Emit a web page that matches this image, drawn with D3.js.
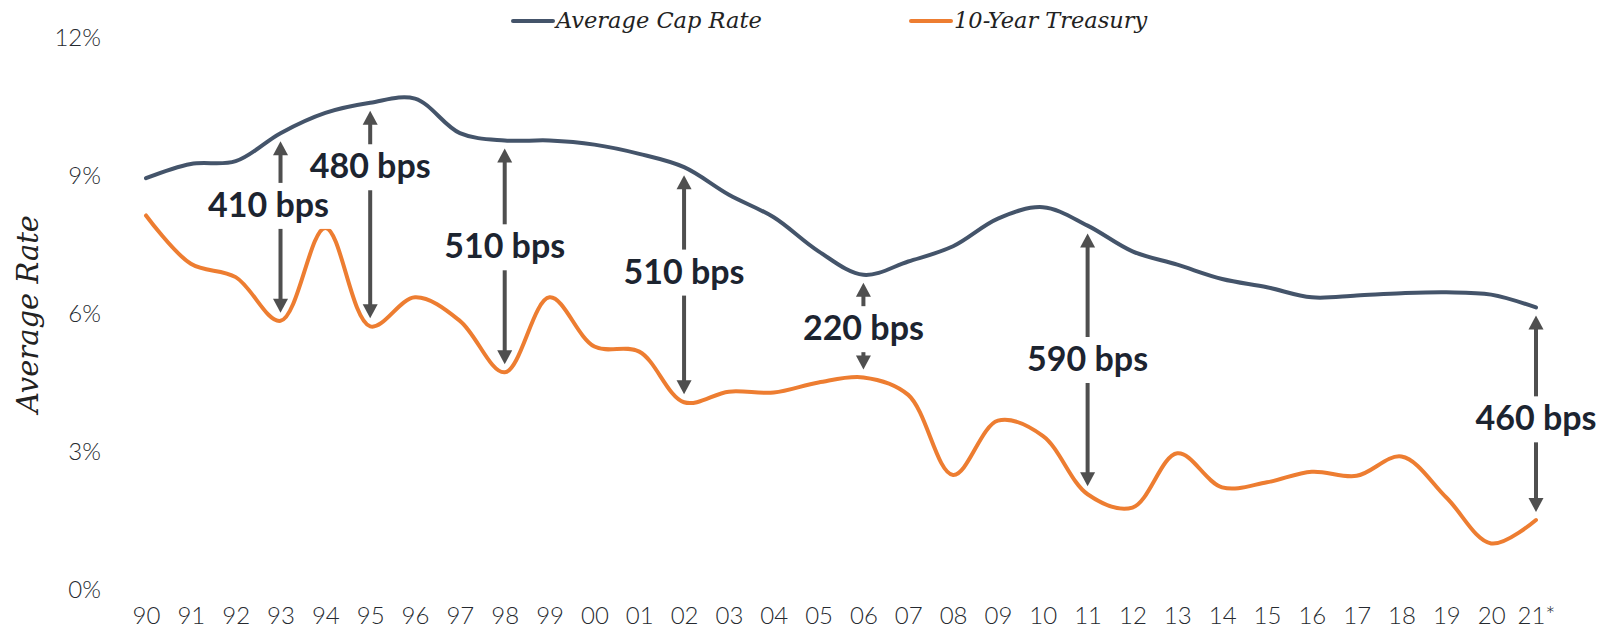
<html>
  <head>
    <script src="https://cdn.jsdelivr.net/npm/d3@7"></script>
    <style>
      body { margin: 0; background: #fff; }
      text { font-family: Lato, "Open Sans", sans-serif; }
    </style>
  </head>
  <body>
    <svg id="chart" width="1608" height="631"></svg>
    <script>
      var years = ["90","91","92","93","94","95","96","97","98","99","00","01","02","03","04","05",
                   "06","07","08","09","10","11","12","13","14","15","16","17","18","19","20","21*"];
      var capRate = [8.93, 9.24, 9.30, 9.91, 10.35, 10.57, 10.66, 9.91, 9.75, 9.75, 9.66, 9.46, 9.17, 8.57, 8.08, 7.34,
                     6.83, 7.12, 7.45, 8.05, 8.30, 7.90, 7.34, 7.05, 6.74, 6.56, 6.34, 6.38, 6.43, 6.45, 6.40, 6.12];
      var treasury = [8.12, 7.07, 6.78, 5.83, 7.85, 5.71, 6.34, 5.83, 4.71, 6.34, 5.27, 5.16, 4.06, 4.29, 4.27, 4.49,
                      4.60, 4.22, 2.48, 3.66, 3.33, 2.06, 1.77, 2.95, 2.21, 2.32, 2.55, 2.46, 2.88, 1.99, 0.99, 1.50];
      var yTicks = [0, 3, 6, 9, 12];
      // spread call-outs: year, text, level (in %) where the label sits
      var spreadYears = ["93", "95", "98", "02", "06", "11", "21*"];
      var spreadText = ["410 bps", "480 bps", "510 bps", "510 bps", "220 bps", "590 bps", "460 bps"];
      var spreadLevel = [8.35, 9.19, 7.45, 6.9, 5.67, 5.0, 3.71];
      var seriesNames = ["Average Cap Rate", "10-Year Treasury"];

      var blue = "#44546a", orange = "#ed7d31", arrowCol = "#4f4f4f";

      var svg = d3.select("#chart");
      var x = d3.scalePoint().domain(years).range([146, 1536]);
      var y = d3.scaleLinear().domain([0, 12]).range([589, 37]);

      // y axis labels
      var yAxis = d3.axisLeft(y).tickValues(yTicks).tickFormat(function (d) { return d + "%"; }).tickSize(0).tickPadding(0);
      var gy = svg.append("g").attr("transform", "translate(101,0)").call(yAxis);
      gy.select(".domain").remove();
      gy.selectAll("text").attr("font-size", 24).attr("fill", "#262a30").attr("font-family", "Lato, sans-serif")
        .attr("font-weight", 300).attr("dy", "0.35em");

      // x axis labels
      var xAxis = d3.axisBottom(x).tickSize(0).tickPadding(0);
      var gx = svg.append("g").attr("transform", "translate(0,607)").call(xAxis);
      gx.select(".domain").remove();
      gx.selectAll("text").attr("font-size", 24).attr("fill", "#262a30").attr("font-family", "Lato, sans-serif")
        .attr("font-weight", 300).attr("dy", "0.71em");

      // y title
      svg.append("text")
        .attr("transform", "translate(38,314) rotate(-90)")
        .attr("text-anchor", "middle")
        .style("font-family", "'DejaVu Serif', serif")
        .style("font-style", "italic")
        .attr("font-size", 29)
        .attr("fill", "#222")
        .text("Average Rate");

      var line = d3.line()
        .x(function (d, i) { return x(years[i]); })
        .y(function (d) { return y(d); })
        .curve(d3.curveCatmullRom.alpha(0.5));

      svg.append("path").datum(capRate).attr("d", line)
        .attr("fill", "none").attr("stroke", blue).attr("stroke-width", 4).attr("stroke-linecap", "round");
      svg.append("path").datum(treasury).attr("d", line)
        .attr("fill", "none").attr("stroke", orange).attr("stroke-width", 4).attr("stroke-linecap", "round");

      // spread arrows
      function head(px, py, dir) {
        // dir -1 = pointing up, 1 = pointing down
        return "M" + (px - 7.5) + "," + (py - dir * 14) + "L" + px + "," + py + "L" + (px + 7.5) + "," + (py - dir * 14) + "Z";
      }
      spreadYears.forEach(function (yr, k) {
        var i = years.indexOf(yr);
        var px = x(yr);
        var top = y(capRate[i]) + 8;
        var bot = y(treasury[i]) - 8;
        var ly = y(spreadLevel[k]);
        var g = svg.append("g");
        g.append("line").attr("x1", px).attr("x2", px).attr("y1", top + 12).attr("y2", bot - 12)
          .attr("stroke", arrowCol).attr("stroke-width", 4);
        g.append("path").attr("d", head(px, top, -1)).attr("fill", arrowCol);
        g.append("path").attr("d", head(px, bot, 1)).attr("fill", arrowCol);
        var dx = yr === "93" ? -12 : 0;
        var t = g.append("text").attr("x", px + dx).attr("y", ly + 12)
          .attr("text-anchor", "middle").attr("font-size", 34).attr("font-weight", 700)
          .attr("fill", "#1c2430").text(spreadText[k]);
        var bb = t.node().getBBox();
        g.insert("rect", "text").attr("x", bb.x - 4).attr("width", bb.width + 8)
          .attr("y", ly - 22).attr("height", 46).attr("fill", "#fff");
      });

      // legend
      var legendX = [513, 911];
      var colors = [blue, orange];
      seriesNames.forEach(function (nm, i) {
        svg.append("line").attr("x1", legendX[i]).attr("x2", legendX[i] + 40).attr("y1", 21).attr("y2", 21)
          .attr("stroke", colors[i]).attr("stroke-width", 4).attr("stroke-linecap", "round");
        svg.append("text").attr("x", legendX[i] + 43).attr("y", 28)
          .style("font-family", "'DejaVu Serif', serif").style("font-style", "italic")
          .attr("font-size", 22.5).attr("fill", "#222").text(nm);
      });
    </script>
  </body>
</html>
